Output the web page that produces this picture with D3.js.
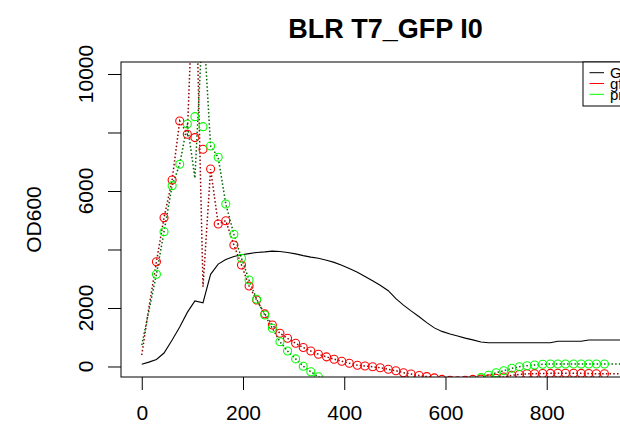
<!DOCTYPE html>
<html>
<head>
<meta charset="utf-8">
<script src="https://cdn.jsdelivr.net/npm/d3@7"></script>
<style>
  body { margin: 0; background: #fff; }
  svg { display: block; font-family: "Liberation Sans", Arial, sans-serif; }
</style>
</head>
<body>
<svg id="chart"></svg>
<script>
// Données
const times = [0, 14, 29, 44, 60, 75, 90, 105, 121, 136, 151, 166, 182, 197, 212, 227, 243, 258, 273, 288,
  304, 319, 334, 349, 365, 380, 395, 410, 426, 441, 456, 471, 487, 502, 517, 532, 548, 563, 578, 593,
  609, 624, 639, 654, 670, 685, 700, 715, 731, 746, 761, 776, 792, 807, 822, 837, 853, 868, 883, 898,
  914, 929, 944, 959, 975];

// courbe noire (trait plein)
const odValues = [75, 150, 240, 460, 906, 1350, 1850, 2240, 2180, 3150,
  3500, 3660, 3760, 3820, 3860, 3900, 3920, 3945, 3930, 3900,
  3850, 3790, 3740, 3700, 3630, 3560, 3460, 3350, 3220, 3080,
  2930, 2780, 2590, 2320, 2100, 1900, 1700, 1500, 1320, 1200,
  1110, 1040, 970, 910, 840, 814, 814, 814, 814, 814,
  814, 814, 814, 814, 861, 861, 861, 861, 906, 906,
  906, 906, 906, 906, 906];

// cercles rouges
const redPoints = [null, null, 3583, 5088, 6376, 8393, 7940, 7826, 7428, 6752,
  4872, 4985, 4154, 3470, 2752, 2274, 1800, 1419, 1135, 964,
  793, 650, 530, 420, 330, 250, 180, 110, 45, 17,
  -7, -41, -96, -144, -212, -256, -310, -345, -390, -440,
  -470, -490, -470, -440, -430, -420, -400, -360, -300, -270,
  -250, -245, -240, -235, -230, -230, -230, -235, -240, -250,
  -250];

// pointillés rouge foncé
const redLine = [393, 2000, 3583, 5088, 6376, 8393, 7940, 14700, 2729, 6752,
  4872, 4985, 4154, 3470, 2752, 2274, 1800, 1419, 1135, 964,
  793, 650, 530, 420, 330, 250, 180, 110, 45, 17,
  -7, -41, -96, -144, -212, -256, -310, -345, -390, -440,
  -470, -490, -470, -440, -430, -420, -400, -360, -300, -270,
  -250, -245, -240, -235, -230, -230, -230, -235, -240, -250,
  -250, -250, -250, -250, -250];

// cercles verts
const greenPoints = [null, null, 3152, 4609, 6182, 6913, 8290, 8541, 8199, 7538,
  7152, 5556, 4520, 3699, 2957, 2297, 1761, 1306, 848, 530,
  260, 10, -178, -348, -520, -600, -650, -700, -750, -800,
  -850, -880, -900, -920, -930, -940, -940, -930, -900, -850,
  -780, -700, -600, -500, -380, -300, -212, -144, -62, -7,
  27, 51, 75, 85, 85, 85, 85, 85, 85, 85,
  85];

// pointillés vert foncé
const greenLine = [735, 1900, 3152, 4609, 6182, 6913, 8290, 6440, 12000, 7538,
  7152, 5556, 4520, 3699, 2957, 2297, 1761, 1306, 848, 530,
  260, 10, -178, -348, -520, -600, -650, -700, -750, -800,
  -850, -880, -900, -920, -930, -940, -940, -930, -900, -850,
  -780, -700, -600, -500, -380, -300, -212, -144, -62, -7,
  27, 51, 75, 85, 85, 85, 85, 85, 85, 85,
  85, 85, 85, 85, 85];

const xTicks = [0, 200, 400, 600, 800];
const yTicks = [0, 2000, 4000, 6000, 8000, 10000];
const yLabels = [0, 2000, 6000, 10000];
const legendLabels = ["GFP", "gfp", "pred"];
const legendColors = ["black", "red", "#00ff00"];

// Dimensions
const width = 620, height = 427;
const plot = { left: 121, right: 650, top: 62, bottom: 377 };

const svg = d3.select("#chart")
  .attr("width", width)
  .attr("height", height);

const x = d3.scaleLinear().domain([-41, 1004]).range([plot.left, plot.right]);
const y = d3.scaleLinear().domain([-359, 10410]).range([plot.bottom, plot.top]);

svg.append("defs").append("clipPath").attr("id", "clip")
  .append("rect")
  .attr("x", plot.left).attr("y", plot.top)
  .attr("width", plot.right - plot.left).attr("height", plot.bottom - plot.top);

const data = svg.append("g").attr("clip-path", "url(#clip)");

const line = d3.line()
  .defined(d => d[1] != null)
  .x(d => x(d[0]))
  .y(d => y(d[1]));

// pointillés
data.append("path")
  .datum(times.map((t, i) => [t, redLine[i]]))
  .attr("d", line)
  .attr("fill", "none")
  .attr("stroke", "#8b0000")
  .attr("stroke-width", 1.5)
  .attr("stroke-dasharray", "1.5,2.2");

data.append("path")
  .datum(times.map((t, i) => [t, greenLine[i]]))
  .attr("d", line)
  .attr("fill", "none")
  .attr("stroke", "#006400")
  .attr("stroke-width", 1.5)
  .attr("stroke-dasharray", "1.5,2.2");

// courbe noire
data.append("path")
  .datum(times.map((t, i) => [t, odValues[i]]))
  .attr("d", line)
  .attr("fill", "none")
  .attr("stroke", "black")
  .attr("stroke-width", 1.1);

// cercles
function drawPoints(values, color) {
  data.append("g")
    .selectAll("circle")
    .data(times.map((t, i) => [t, values[i]]).filter(d => d[1] != null))
    .join("circle")
    .attr("cx", d => x(d[0]))
    .attr("cy", d => y(d[1]))
    .attr("r", 4)
    .attr("fill", "none")
    .attr("stroke", color)
    .attr("stroke-width", 1.1);
}
drawPoints(redPoints, "red");
drawPoints(greenPoints, "#00ff00");

// Axes
const xAxis = svg.append("g")
  .attr("transform", `translate(0,${plot.bottom})`)
  .call(d3.axisBottom(x).tickValues(xTicks).tickSize(13).tickFormat(d3.format("d")));
xAxis.select(".domain").remove();
xAxis.selectAll("text")
  .attr("y", 42.5).attr("dy", null)
  .attr("fill", "black")
  .style("font-size", "21px");

const yAxis = svg.append("g")
  .attr("transform", `translate(${plot.left},0)`)
  .call(d3.axisLeft(y).tickValues(yTicks).tickSize(13).tickFormat(""));
yAxis.select(".domain").remove();
svg.selectAll(".tick line").attr("stroke", "black");

svg.append("g")
  .selectAll("text")
  .data(yLabels)
  .join("text")
  .attr("transform", d => `translate(93,${y(d)}) rotate(-90)`)
  .attr("text-anchor", "middle")
  .style("font-size", "21px")
  .text(d => d);

// cadre
svg.append("rect")
  .attr("x", plot.left).attr("y", plot.top)
  .attr("width", plot.right - plot.left).attr("height", plot.bottom - plot.top)
  .attr("fill", "none")
  .attr("stroke", "black");

// titres
svg.append("text")
  .attr("x", (plot.left + plot.right) / 2)
  .attr("y", 38)
  .attr("text-anchor", "middle")
  .style("font-size", "27px")
  .style("font-weight", "bold")
  .text("BLR T7_GFP I0");

svg.append("text")
  .attr("transform", `translate(40.5,${(plot.top + plot.bottom) / 2}) rotate(-90)`)
  .attr("text-anchor", "middle")
  .style("font-size", "21px")
  .text("OD600");

// Légende
const legend = svg.append("g");
legend.append("rect")
  .attr("x", 583).attr("y", plot.top)
  .attr("width", plot.right - 583).attr("height", 44)
  .attr("fill", "white")
  .attr("stroke", "black");

legendLabels.forEach((label, i) => {
  const ly = 72.7 + i * 10.8;
  legend.append("line")
    .attr("x1", 589.5).attr("x2", 604)
    .attr("y1", ly).attr("y2", ly)
    .attr("stroke", legendColors[i]);
  legend.append("text")
    .attr("x", 610).attr("y", ly + 5.5)
    .style("font-size", "15px")
    .text(label);
});
</script>
</body>
</html>
